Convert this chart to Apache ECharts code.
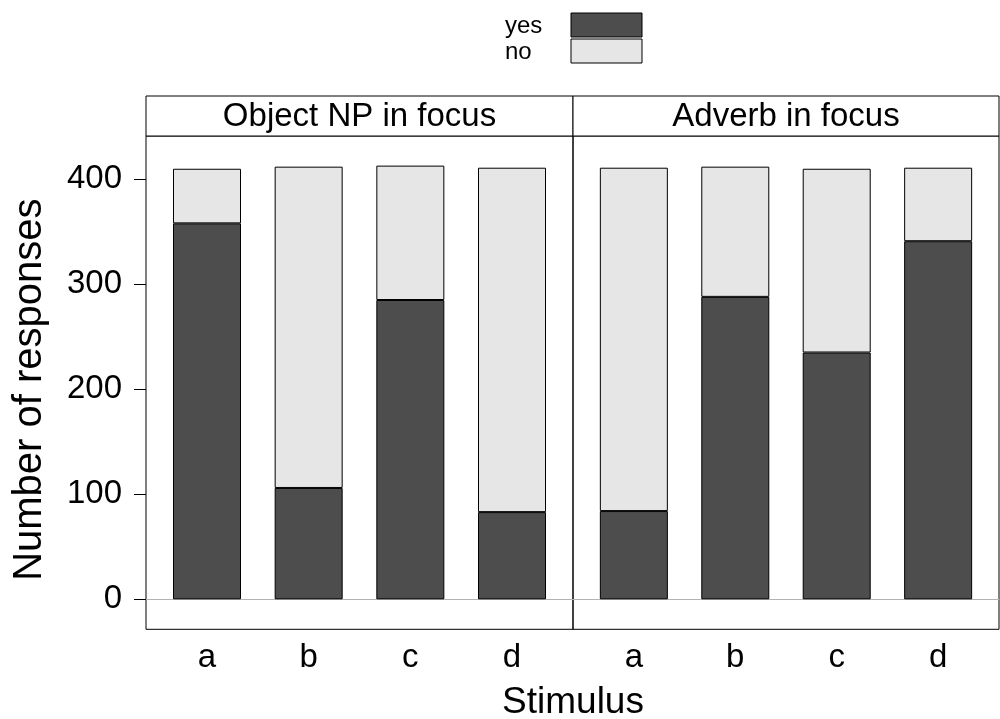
<!DOCTYPE html>
<html>
<head>
<meta charset="utf-8">
<title>Responses by stimulus</title>
<script src="https://cdn.jsdelivr.net/npm/echarts@6/dist/echarts.min.js"></script>
<style>
  html, body { margin: 0; padding: 0; background: #fff; }
  #chart { width: 1000px; height: 719px; }
</style>
</head>
<body>
<div id="chart"></div>
<script>
// Stimulus categories and the two focus conditions
const stimuli = ['a', 'b', 'c', 'd'];
const panels = ['Object NP in focus', 'Adverb in focus'];
const responseNames = ['yes', 'no'];

// Counts of responses per stimulus
const objectYes = [358, 106, 285, 83];
const objectNo = [52, 306, 128, 328];
const adverbYes = [84, 288, 235, 341];
const adverbNo = [327, 124, 175, 70];

const yTicks = [0, 100, 200, 300, 400];

const FONT = '"Liberation Sans", Arial, Helvetica, sans-serif';
const YES_COLOR = '#4d4d4d';
const NO_COLOR = '#e6e6e6';

// Panel frames (pixels)
const frameTop = 136;
const frameHeight = 493.3;
const panelLefts = [146, 573];
const panelWidths = [427, 426];
const yMin = -28.6, yMax = 441.2;
// categories span 4 of 4.2 units of each panel width
const padUnits = 0.1, spanUnits = 4.2;

const panelData = [
  { yes: objectYes, no: objectNo },
  { yes: adverbYes, no: adverbNo }
];

const grids = [];
const xAxes = [];
const yAxes = [];
const series = [];

panelLefts.forEach((l, i) => {
  const unit = panelWidths[i] / spanUnits;
  // frame grid: border, y ticks and the zero reference line
  grids.push({
    left: l, top: frameTop, width: panelWidths[i], height: frameHeight,
    show: true, borderColor: '#000', borderWidth: 1, backgroundColor: 'transparent'
  });
  // bar grid: inset so each category band is one unit wide
  grids.push({
    left: l + padUnits * unit, top: frameTop, width: 4 * unit, height: frameHeight,
    show: false
  });
  const fg = 2 * i, bg = 2 * i + 1;

  xAxes.push({
    type: 'value', gridIndex: fg, min: 0, max: 1,
    axisLine: { show: true, onZero: true, lineStyle: { color: '#b3b3b3', width: 1 } },
    axisTick: { show: false }, axisLabel: { show: false }, splitLine: { show: false }
  });
  xAxes.push({
    type: 'category', gridIndex: bg, data: stimuli, boundaryGap: true,
    axisLine: { show: false }, axisTick: { show: false }, splitLine: { show: false },
    axisLabel: { fontFamily: FONT, fontSize: 33, color: '#000', margin: 12 }
  });

  yAxes.push({
    type: 'value', gridIndex: fg, min: yMin, max: yMax,
    axisLine: { show: false }, splitLine: { show: false },
    axisTick: {
      show: i === 0, inside: false, length: 12, customValues: yTicks,
      lineStyle: { color: '#000', width: 1 }
    },
    axisLabel: {
      show: i === 0, customValues: yTicks,
      fontFamily: FONT, fontSize: 33, color: '#000', margin: 24
    },
    name: i === 0 ? 'Number of responses' : '',
    nameLocation: 'middle', nameRotate: 90, nameGap: 96,
    nameTextStyle: { fontFamily: FONT, fontSize: 40, color: '#000', padding: [0, 14, 0, 0] }
  });
  yAxes.push({
    type: 'value', gridIndex: bg, min: yMin, max: yMax,
    axisLine: { show: false }, axisTick: { show: false },
    axisLabel: { show: false }, splitLine: { show: false }
  });

  const p = panelData[i];
  series.push({
    name: 'yes', type: 'bar', xAxisIndex: bg, yAxisIndex: bg, stack: 'p' + i,
    barWidth: 68, clip: false,
    data: p.yes,
    itemStyle: { color: YES_COLOR, borderColor: '#000', borderWidth: 1 },
    emphasis: { disabled: true },
    z: 3
  });
  series.push({
    name: 'no', type: 'bar', xAxisIndex: bg, yAxisIndex: bg, stack: 'p' + i,
    barWidth: 68, clip: false,
    data: p.no,
    itemStyle: { color: NO_COLOR, borderColor: '#000', borderWidth: 1 },
    emphasis: { disabled: true },
    z: 3
  });
});

// Strip headers above each panel and the shared x title
const stripHeight = 40;
const graphics = [];
panels.forEach((title, i) => {
  graphics.push({
    type: 'rect',
    shape: { x: panelLefts[i], y: frameTop - stripHeight, width: panelWidths[i], height: stripHeight },
    style: { fill: '#fff', stroke: '#000', lineWidth: 1 },
    z: 10
  });
  graphics.push({
    type: 'text',
    x: panelLefts[i] + panelWidths[i] / 2, y: frameTop - stripHeight / 2 + 1,
    style: { text: title, font: '33px ' + FONT, fill: '#000', align: 'center', verticalAlign: 'middle' },
    z: 11
  });
});
graphics.push({
  type: 'text',
  x: panelLefts[1], y: 703,
  style: { text: 'Stimulus', font: '37px ' + FONT, fill: '#000', align: 'center', verticalAlign: 'middle' },
  z: 11
});

const chart = echarts.init(document.getElementById('chart'), null, { renderer: 'canvas' });
chart.setOption({
  animation: false,
  backgroundColor: '#fff',
  legend: {
    data: responseNames,
    orient: 'vertical', left: 505, top: 12, padding: 0,
    itemWidth: 71, itemHeight: 24, itemGap: 0, align: 'right',
    icon: 'rect',
    itemStyle: { borderColor: '#000', borderWidth: 1 },
    selectedMode: false,
    formatter: name => '{t|' + name + '}',
    textStyle: {
      color: '#000', fontFamily: FONT, fontSize: 24,
      rich: { t: { width: 61, align: 'left', fontFamily: FONT, fontSize: 24, color: '#000', lineHeight: 22, padding: [2, 0, 0, 0] } }
    }
  },
  grid: grids,
  xAxis: xAxes,
  yAxis: yAxes,
  series: series,
  graphic: graphics
});
</script>
</body>
</html>
